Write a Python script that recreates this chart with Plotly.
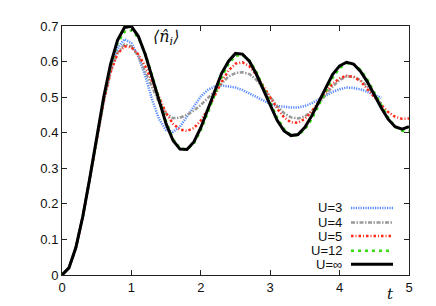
import plotly.graph_objects as go

t_full = [round(0.1 * i, 1) for i in range(51)]
t_short = t_full[:47]  # 0 .. 4.6

u3 = [0, 0.020, 0.077, 0.164, 0.271, 0.385, 0.490, 0.578, 0.637, 0.663,
      0.652, 0.615, 0.560, 0.492, 0.438, 0.407, 0.402, 0.417, 0.445, 0.475,
      0.502, 0.520, 0.530, 0.533, 0.531, 0.527, 0.520, 0.510, 0.499, 0.489,
      0.481, 0.475, 0.472, 0.471, 0.471, 0.475, 0.483, 0.494, 0.505, 0.515,
      0.522, 0.527, 0.526, 0.522, 0.515, 0.507, 0.498]

u4 = [0, 0.020, 0.077, 0.164, 0.271, 0.384, 0.487, 0.572, 0.625, 0.648,
      0.643, 0.615, 0.573, 0.526, 0.484, 0.454, 0.441, 0.442, 0.450, 0.462,
      0.478, 0.497, 0.518, 0.540, 0.558, 0.568, 0.570, 0.565, 0.549, 0.525,
      0.500, 0.475, 0.455, 0.443, 0.440, 0.446, 0.461, 0.482, 0.507, 0.530,
      0.548, 0.558, 0.558, 0.548, 0.530, 0.506, 0.482]

u5 = [0, 0.020, 0.077, 0.164, 0.271, 0.384, 0.487, 0.570, 0.622, 0.643,
      0.640, 0.620, 0.587, 0.544, 0.497, 0.455, 0.425, 0.409, 0.405, 0.413,
      0.434, 0.465, 0.504, 0.543, 0.575, 0.594, 0.598, 0.587, 0.563, 0.533,
      0.500, 0.468, 0.443, 0.429, 0.428, 0.439, 0.460, 0.487, 0.515, 0.538,
      0.553, 0.560, 0.557, 0.545, 0.524, 0.500, 0.478, 0.458, 0.445, 0.439,
      0.440]

u12 = [0, 0.020, 0.077, 0.164, 0.271, 0.386, 0.495, 0.588, 0.652, 0.684,
       0.688, 0.667, 0.622, 0.560, 0.492, 0.430, 0.382, 0.356, 0.353, 0.370,
       0.407, 0.456, 0.508, 0.556, 0.594, 0.616, 0.619, 0.603, 0.571, 0.529,
       0.484, 0.442, 0.410, 0.393, 0.393, 0.409, 0.439, 0.477, 0.518, 0.555,
       0.582, 0.595, 0.593, 0.577, 0.549, 0.513, 0.476, 0.442, 0.417, 0.405,
       0.405]

uinf = [0, 0.020, 0.077, 0.165, 0.272, 0.388, 0.499, 0.593, 0.660, 0.696,
        0.699, 0.671, 0.620, 0.555, 0.487, 0.425, 0.378, 0.354, 0.353, 0.374,
        0.414, 0.465, 0.519, 0.567, 0.601, 0.623, 0.621, 0.601, 0.565, 0.521,
        0.475, 0.435, 0.405, 0.392, 0.395, 0.415, 0.448, 0.488, 0.528, 0.564,
        0.588, 0.598, 0.593, 0.573, 0.543, 0.506, 0.470, 0.438, 0.417, 0.410,
        0.417]

labels = ["U=3", "U=4", "U=5", "U=12", "U=\u221e"]
series = [(t_short, u3), (t_short, u4), (t_full, u5), (t_full, u12), (t_full, uinf)]
colors = ["#5588ff", "#999999", "#ff2a1a", "#33dd11", "#000000"]
dashes = ["1.2px,1.2px", "4px,1.5px,1.5px,1.5px", "2.5px,2px,1px,2px", "3px,4px", "solid"]
widths = [2.5, 2.5, 2.5, 2.5, 3]

x_ticks = [0, 1, 2, 3, 4, 5]
y_ticks = [0, 0.1, 0.2, 0.3, 0.4, 0.5, 0.6, 0.7]

fig = go.Figure()
for (xs, ys), name, c, d, w in zip(series, labels, colors, dashes, widths):
    fig.add_trace(go.Scatter(x=xs, y=ys, mode="lines", name=name,
                             line=dict(color=c, dash=d, width=w),
                             showlegend=False, hoverinfo="skip"))

# page body has an 8px margin; target plot box in window pixels: x 62..409, y 19..275
OFF = 8
W, H = 428, 298
PX0, PX1, PY0, PY1 = 62, 409, 19, 275
L, T = PX0 - OFF, PY0 - OFF
R = W - (PX1 - OFF)
B = H - (PY1 - OFF)
pw, ph = PX1 - PX0, PY1 - PY0


def px(xw):
    return (xw - PX0) / pw


def py(yw):
    return (PY1 - yw) / ph


# custom gnuplot-style legend (text then sample)
row_px = [206, 221, 235, 250, 264]
for name, c, d, w, yy in zip(labels, colors, dashes, widths, row_px):
    fig.add_annotation(x=px(344), y=py(yy), xref="paper", yref="paper",
                       text=name, showarrow=False, xanchor="right", yanchor="middle",
                       font=dict(size=13, family="Liberation Sans, Arial", color="#111"))
    fig.add_shape(type="line", xref="paper", yref="paper",
                  x0=px(351), x1=px(393), y0=py(yy), y1=py(yy),
                  line=dict(color=c, dash=d, width=w))

fig.add_annotation(x=px(166), y=py(31), xref="paper", yref="paper",
                   text="<i>\u27e8n\u0302<sub>i</sub>\u27e9</i>", showarrow=False,
                   xanchor="center", yanchor="middle",
                   font=dict(size=16, family="DejaVu Serif", color="#111"))
fig.add_annotation(x=px(390), y=py(295), xref="paper", yref="paper",
                   text="<i>t</i>", showarrow=False, xanchor="center", yanchor="middle",
                   font=dict(size=15, family="DejaVu Serif", color="#111"))

axis_common = dict(showline=True, linecolor="#222", linewidth=1, mirror="ticks",
                   ticks="inside", ticklen=5, tickcolor="#222", showgrid=False,
                   zeroline=False, tickfont=dict(size=13, family="Liberation Sans, Arial", color="#111"))

fig.update_layout(
    width=W, height=H,
    margin=dict(l=L, r=R, t=T, b=B),
    paper_bgcolor="white", plot_bgcolor="white",
    xaxis=dict(range=[0, 5], tickvals=x_ticks, ticktext=[str(v) for v in x_ticks], **axis_common),
    yaxis=dict(range=[0, 0.7], tickvals=y_ticks, ticktext=["0" if v == 0 else str(v) for v in y_ticks], **axis_common),
)

fig.write_html("out.html")
